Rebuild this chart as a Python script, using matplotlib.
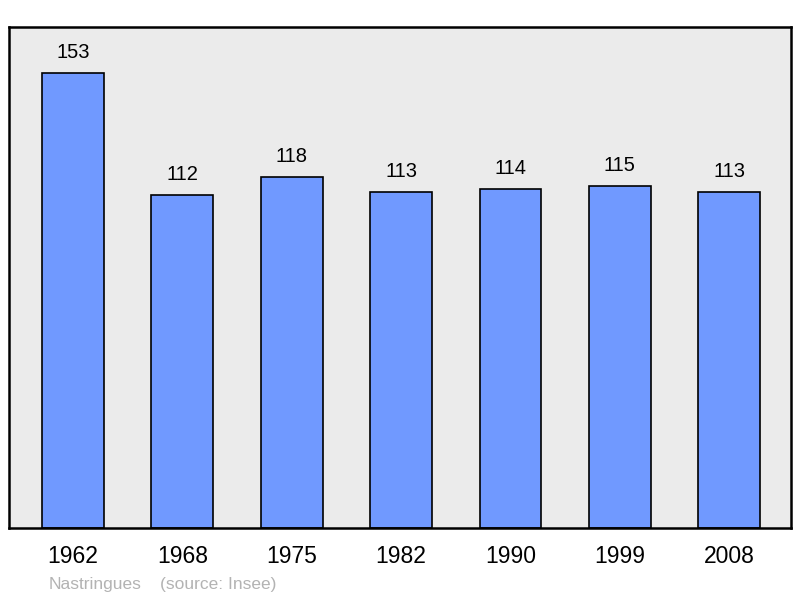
import matplotlib.pyplot as plt

years = ["1962", "1968", "1975", "1982", "1990", "1999", "2008"]
population = [153, 112, 118, 113, 114, 115, 113]

plt.rcParams['font.family'] = ['Liberation Sans', 'DejaVu Sans']

fig = plt.figure(figsize=(8, 5.98), dpi=100)
ax = fig.add_axes([9 / 800, 70 / 598, 782 / 800, 501 / 598])
ax.set_facecolor("#ebebeb")

x = range(len(years))
bars = ax.bar(x, population, width=0.565, color="#7099ff",
              edgecolor="black", linewidth=1.2, zorder=2)

for xi, v in zip(x, population):
    ax.annotate(str(v), (xi, v), xytext=(0, 8), textcoords="offset points",
                ha="center", va="bottom", fontsize=14.5)

ax.set_xlim(-0.585, 6.565)
ax.set_ylim(0, 168.5)
ax.set_xticks(list(x))
ax.set_xticklabels(years, fontsize=16.5)
ax.tick_params(axis="x", length=0, pad=12)
ax.set_yticks([])
for s in ax.spines.values():
    s.set_linewidth(1.8)
    s.set_color("black")

fig.text(49 / 800, 1 - 584 / 598, "Nastringues", color="#b3b3b3",
         fontsize=12.5, va="center")
fig.text(160 / 800, 1 - 584 / 598, "(source: Insee)", color="#b3b3b3",
         fontsize=12.5, va="center")

fig.savefig("out.png", dpi=100)
